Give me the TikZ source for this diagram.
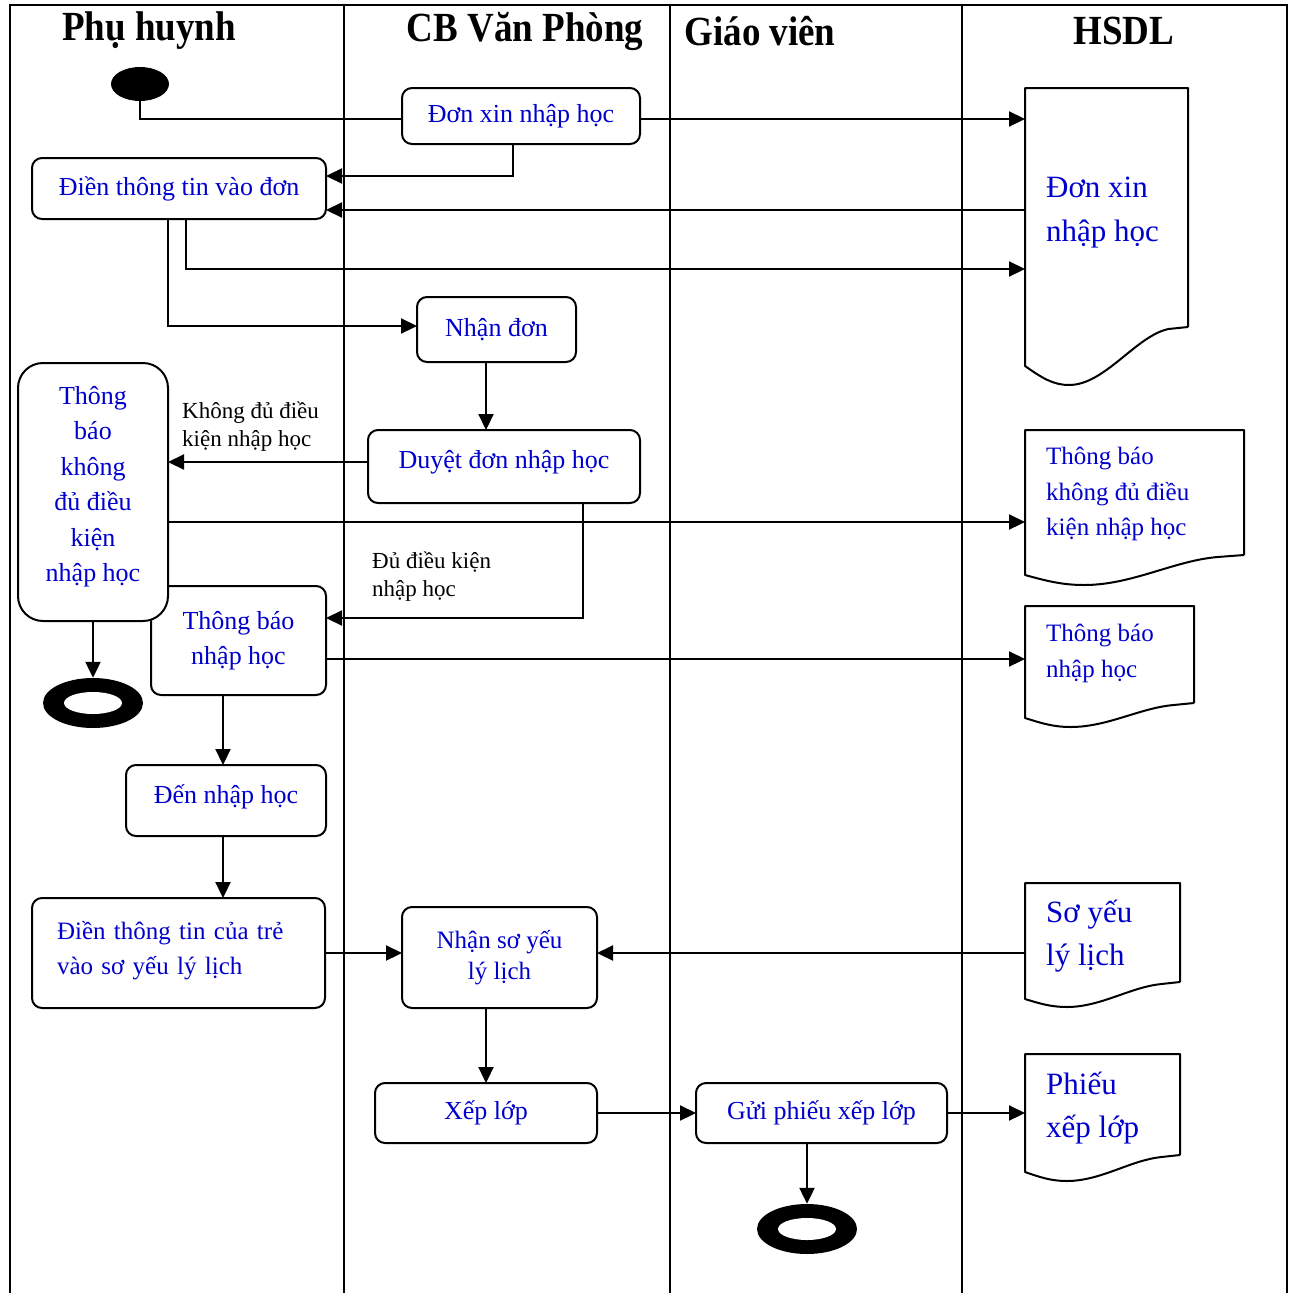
\documentclass[tikz,border=0pt]{standalone}
\usepackage{fontspec}
\setmainfont{Liberation Serif}
\usetikzlibrary{arrows.meta,shapes.geometric,calc}
\definecolor{txtblue}{RGB}{0,0,205}
% extra depth below the last line lifts a node's text inside its box
\newcommand\lift[1]{\rule[-#1]{0pt}{#1}}
% document symbol with a wavy lower edge: name, width, left drop, lowest drop
\newcommand\wavydoc[4]{%
  \draw[docline] (#1.south east) -- (#1.north east) -- (#1.north west)
    -- ($(#1.south west)+(0,#3)$)
    .. controls +({0.1*#2},{0.6*(#4-#3)}) and +({-0.1*#2},0) .. ($(#1.south west)+({0.27*#2},#4)$)
    .. controls +({0.22*#2},0) and +({-0.2*#2},{0.12*#4}) .. ($(#1.south east)+({-0.12*#2},2)$)
    -- (#1.south east);
}
\begin{document}
\begin{tikzpicture}[x=1pt,y=-1pt,
  lane/.style={line width=2pt},
  docline/.style={line width=2pt, line join=round},
  box/.style={draw, line width=2pt, rounded corners=10, fill=white, inner sep=0,
    outer sep=0, text=txtblue, align=center,
    font=\fontsize{26}{35}\selectfont},
  docarea/.style={inner sep=0, outer sep=0, anchor=north west},
  doctext/.style={anchor=west, align=left, text=txtblue, inner sep=0},
  head/.style={font=\bfseries\fontsize{37}{40}\selectfont},
  lbl/.style={anchor=west, align=left, inner sep=0, font=\fontsize{23}{28}\selectfont},
  conn/.style={line width=2.2pt},
  arr/.style={conn, -{Triangle[length=16pt,width=15pt]}},
  startdot/.style={ellipse, fill=black, inner sep=0, minimum width=58, minimum height=34},
  ringout/.style={ellipse, fill=black, inner sep=0, minimum width=100, minimum height=50},
  ringin/.style={ellipse, fill=white, inner sep=0, minimum width=58, minimum height=22}]
\useasboundingbox (0,0) rectangle (1293,1293);

% swimlane frame
\draw[lane] (10,1293) -- (10,5) -- (1287,5) -- (1287,1293);
\draw[lane] (344,5) -- (344,1293);
\draw[lane] (670,5) -- (670,1293);
\draw[lane] (962,5) -- (962,1293);

% lane titles
\node[head] (h1) at (149,31) {\scalebox{1}[1.12]{Phụ huynh}};
\node[head] (h2) at (525,31) {\scalebox{1}[1.12]{CB Văn Phòng}};
\node[head] (h3) at (760,31) {\scalebox{1}[1.12]{Giáo viên}};
\node[head] (h4) at (1124,31) {\scalebox{1}[1.12]{HSDL}};

% activities
\node[startdot] (start) at (140,84) {};
\node[box, minimum width=238, minimum height=56] (don) at (521,116) {Đơn xin nhập học};
\node[box, minimum width=294, minimum height=61] (dien) at (179,188.5) {Điền thông tin vào đơn};
\node[box, minimum width=159, minimum height=65] (nhan) at (496.5,329.5) {Nhận đơn\lift{4pt}};
\node[box, minimum width=272, minimum height=73] (duyet) at (504,466.5) {Duyệt đơn nhập học\lift{14pt}};
\node[box, minimum width=175, minimum height=109, font=\fontsize{26}{35}\selectfont] (tbnh) at (238.5,640.5) {Thông báo\\nhập học\lift{4pt}};
\node[box, rounded corners=25, minimum width=150, minimum height=258, font=\fontsize{26}{35.5}\selectfont] (tbkd) at (93,492) {Thông\\báo\\không\\đủ điều\\kiện\\nhập học\lift{16pt}};
\node[ringout] (end1) at (93,703) {};
\node[ringin] (end1in) at (end1) {};
\node[box, minimum width=200, minimum height=71] (den) at (226,800.5) {Đến nhập học\lift{12pt}};
\node[box, minimum width=293, minimum height=110, align=left, text width=243, font=\fontsize{25}{35}\selectfont] (dientre) at (178.5,953) {Điền thông tin của trẻ\\vào sơ yếu lý lịch\lift{10pt}};
\node[box, minimum width=195, minimum height=101, font=\fontsize{25}{31}\selectfont] (nhansyll) at (499.5,957.5) {Nhận sơ yếu\\lý lịch\lift{4pt}};
\node[box, minimum width=222, minimum height=60] (xep) at (486,1113) {Xếp lớp};
\node[box, minimum width=251, minimum height=60] (gui) at (821.5,1113) {Gửi phiếu xếp lớp};
\node[ringout] (end2) at (807,1229) {};
\node[ringin] (end2in) at (end2) {};

% records
\node[docarea, minimum width=163, minimum height=239] (d1) at (1025,88) {};
\node[docarea, minimum width=219, minimum height=125] (d2) at (1025,430) {};
\node[docarea, minimum width=169, minimum height=97] (d3) at (1025,606) {};
\node[docarea, minimum width=155, minimum height=99] (d4) at (1025,883) {};
\node[docarea, minimum width=155, minimum height=101] (d5) at (1025,1054) {};
\wavydoc{d1}{163}{39}{58}
\wavydoc{d2}{219}{20}{30}
\wavydoc{d3}{169}{15}{24}
\wavydoc{d4}{155}{17}{25}
\wavydoc{d5}{155}{17}{26}
\node[doctext, font=\fontsize{31}{44}\selectfont] (d1t) at (1046,213) {Đơn xin\\nhập học};
\node[doctext, font=\fontsize{25}{35.5}\selectfont] (d2t) at (1046,494) {Thông báo\\không đủ điều\\kiện nhập học};
\node[doctext, font=\fontsize{25}{36}\selectfont] (d3t) at (1046,653) {Thông báo\\nhập học};
\node[doctext, font=\fontsize{31}{43}\selectfont] (d4t) at (1046,936.5) {Sơ yếu\\lý lịch};
\node[doctext, font=\fontsize{31}{43}\selectfont] (d5t) at (1046,1108.5) {Phiếu\\xếp lớp};

% flows
\draw[conn] (start.south) |- (140,119 -| don.west);
\draw[arr] (640,119 -| don.east) -- (d1.west |- 0,119);
\draw[arr] (513,0 |- don.south) |- (dien.east |- 0,176);
\draw[arr] (d1.west |- 0,210) -- (dien.east |- 0,210);
\draw[arr] (186,0 |- dien.south) |- (d1.west |- 0,269);
\draw[arr] (168,0 |- dien.south) |- (nhan.west |- 0,326);
\draw[arr] (486,0 |- nhan.south) -- (486,0 |- duyet.north);
\draw[arr] (duyet.west |- 0,462) -- (tbkd.east |- 0,462);
\node[lbl] (lno) at (182,427) {Không đủ điều\\kiện nhập học};
\draw[arr] (tbkd.east |- 0,522) -- (d2.west |- 0,522);
\draw[arr] (583,0 |- duyet.south) |- (tbnh.east |- 0,618);
\node[lbl] (lyes) at (372,577) {Đủ điều kiện\\nhập học};
\draw[arr] (tbkd.south) -- (end1.north);
\draw[arr] (tbnh.east |- 0,659) -- (d3.west |- 0,659);
\draw[arr] (223,0 |- tbnh.south) -- (223,0 |- den.north);
\draw[arr] (223,0 |- den.south) -- (223,0 |- dientre.north);
\draw[arr] (dientre.east) -- (nhansyll.west |- dientre.east);
\draw[arr] (d4.west |- 0,953) -- (nhansyll.east |- 0,953);
\draw[arr] (486,0 |- nhansyll.south) -- (486,0 |- xep.north);
\draw[arr] (xep.east) -- (gui.west);
\draw[arr] (gui.east) -- (gui.east -| d5.west);
\draw[arr] (807,0 |- gui.south) -- (end2.north);
\end{tikzpicture}
\end{document}
